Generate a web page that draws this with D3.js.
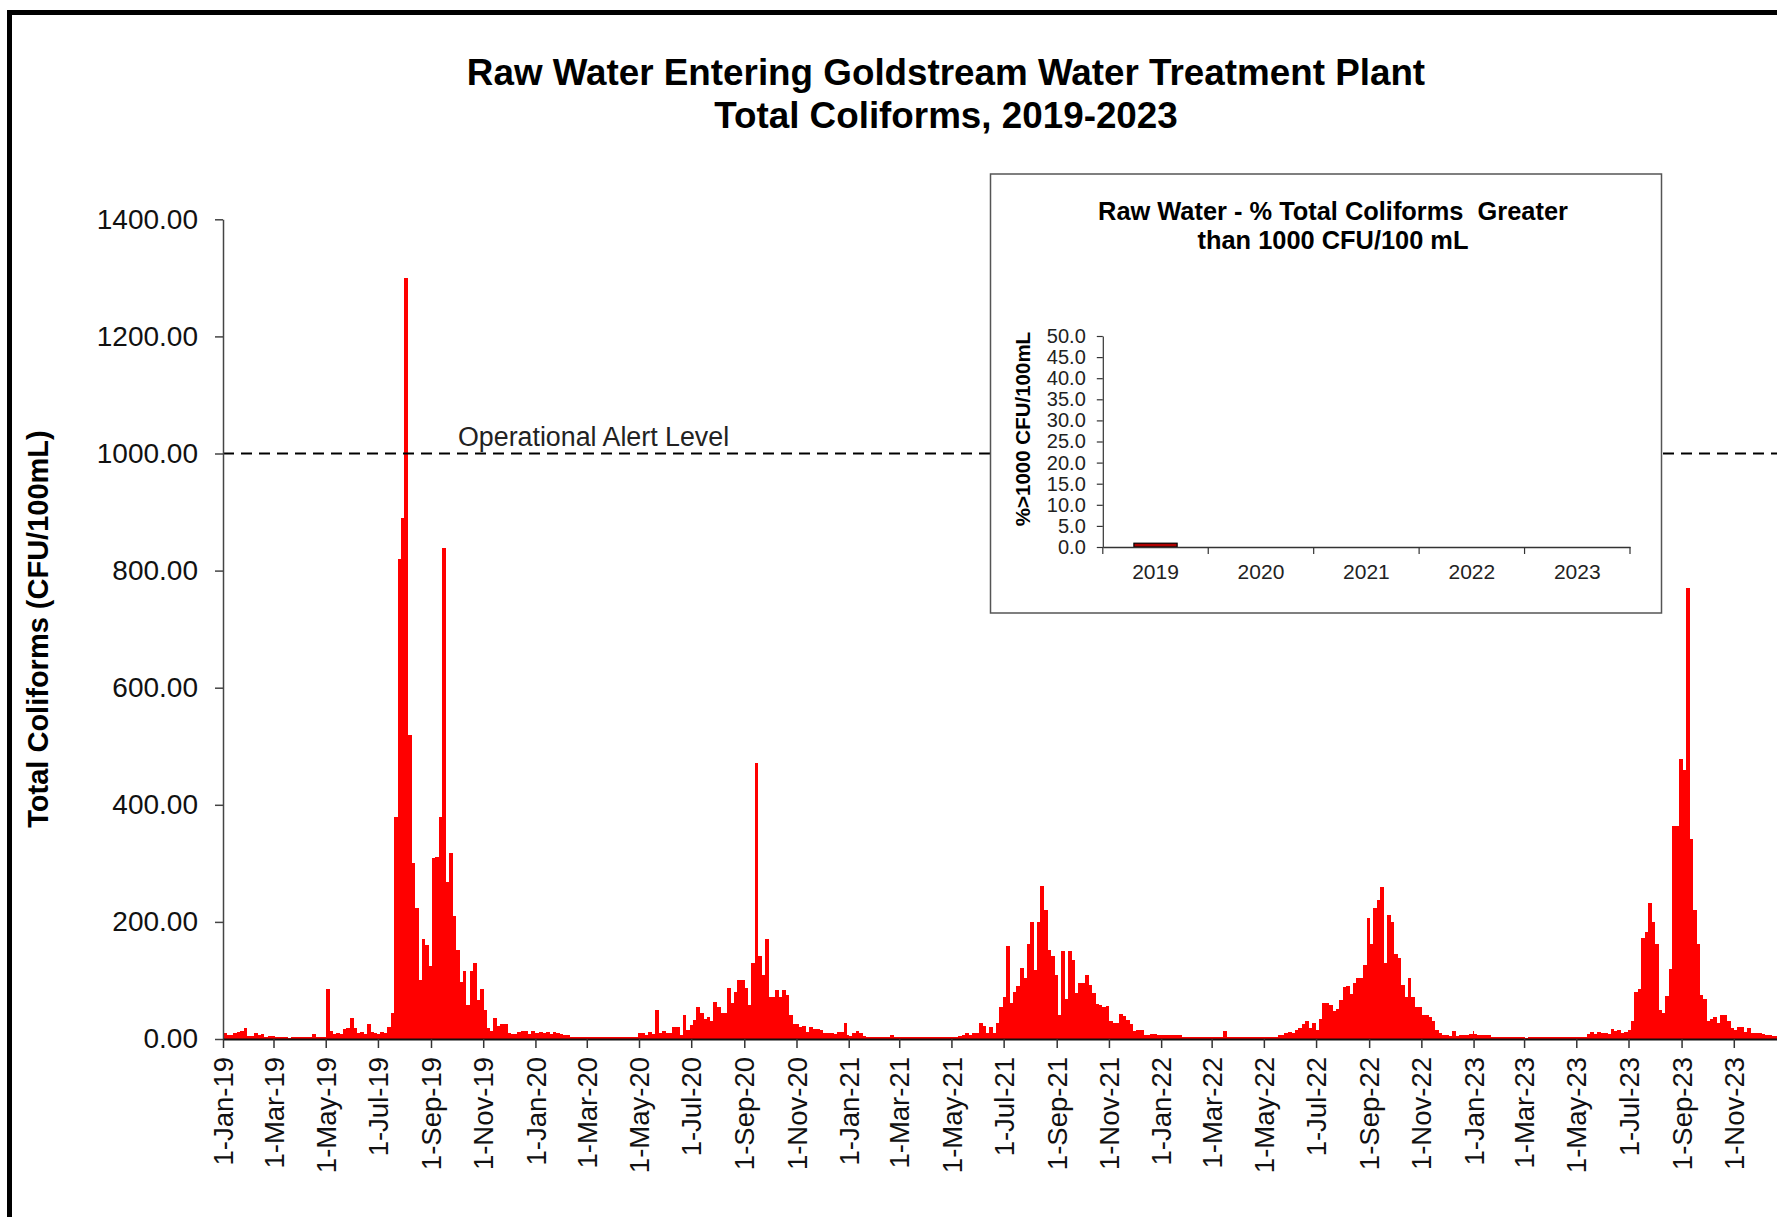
<!DOCTYPE html>
<html>
<head>
<meta charset="utf-8">
<script src="https://cdn.jsdelivr.net/npm/d3@7"></script>
<style>
  body { margin: 0; background: #fff; }
  text { font-family: "Liberation Sans", Arial, sans-serif; }
</style>
</head>
<body>
<div class="chart"></div>
<script>
const width = 1777, height = 1217;

// total coliforms, one reading per 4 days, each list starts on 1 January
const tc2019 = [10, 6, 6, 10, 12, 14, 19, 5, 5, 10, 7, 8, 4, 5, 5, 4, 4, 4, 4, 2, 4, 4, 4, 4, 4, 4, 8, 3, 3, 3,
  86, 14, 8, 10, 8, 17, 19, 36, 18, 10, 12, 8, 25, 12, 10, 8, 12, 10, 20, 45,
  380, 820, 890, 1300, 520, 300, 224, 100, 170, 160, 125, 309, 310, 380, 839, 269, 318, 210, 152, 98,
  116, 58, 116, 130, 67, 85, 49, 18, 13, 36, 22, 25, 25, 10, 8, 9, 12, 14, 13, 8, 14, 10];
const tc2020 = [10, 12, 10, 12, 8, 12, 10, 8, 7, 6,
  4, 4, 3, 4, 4, 4, 3, 4, 4, 4, 4, 3, 4, 4, 4, 4,
  4, 3, 4, 4, 11, 11, 7, 12, 8, 50,
  10, 14, 10, 10, 20, 21, 7, 41, 15, 24, 32, 55,
  45, 35, 38, 30, 64, 55, 44, 44, 87, 61, 81, 100,
  100, 87, 58, 129, 471, 141, 110, 170, 71, 71, 83, 71,
  83, 75, 41, 26, 26, 20, 22, 12, 20, 17, 17, 15,
  10, 10, 10, 8, 12, 12, 27, 7];
const tc2021 = [5, 10, 14, 10, 5, 4, 4, 4, 4, 4, 4, 4, 7,
  4, 4, 3, 4, 4, 4, 4, 3, 4, 4, 4, 4, 4, 3, 4, 4, 4, 4, 4, 5,
  6, 10, 6, 11, 11, 28, 22, 11, 20, 11, 28, 55, 72,
  159, 61, 81, 91, 121, 104, 162, 200, 118, 200, 261, 220, 152,
  141, 109, 41, 151, 69, 151, 135, 78, 95, 95, 109, 92, 78,
  60, 58, 55, 56, 31, 27, 27, 43, 40, 32, 25, 14,
  15, 15, 7, 7, 8, 8, 6, 6];
const tc2022 = [6, 6, 7, 7, 7, 7,
  4, 4, 4, 4, 4, 4, 4, 4, 4, 4, 4, 4, 14,
  4, 4, 3, 4, 4, 4, 4, 4, 3, 4, 4, 4, 4, 4, 4, 7,
  6, 10, 12, 11, 15, 18, 25, 30, 18, 28, 15, 34,
  61, 61, 58, 47, 52, 67, 88, 91, 77, 95, 104, 104,
  126, 206, 163, 223, 237, 260, 130, 212, 199, 146, 139, 92,
  72, 105, 72, 54, 54, 41, 41, 38, 30, 15, 10,
  6, 6, 5, 13, 5, 6, 6, 6, 8, 14];
const tc2023 = [8, 6, 6, 6, 6,
  4, 4, 4, 4, 3, 4, 4, 4, 4, 4,
  2, 4, 3, 4, 3, 4, 3, 4, 3,
  4, 4, 4, 4, 4, 4, 4, 4, 4,
  8, 12, 8, 12, 10, 10, 9, 17, 14, 15, 11, 12,
  15, 30, 81, 85, 172, 182, 232, 200, 162, 50, 44, 73, 120,
  363, 363, 479, 459, 770, 341, 220, 162, 75, 69, 30, 35,
  37, 28, 41, 41, 30, 18, 15, 20, 21, 12, 18, 11,
  10, 10, 8, 7, 6, 5, 5, 5, 4, 4];

const years = [2019, 2020, 2021, 2022, 2023];
const seriesByYear = [tc2019, tc2020, tc2021, tc2022, tc2023];
const stepDays = 4;
const alertLevel = 1000;
const yTicks = [0, 200, 400, 600, 800, 1000, 1200, 1400];

// inset: % of samples above 1000 CFU/100 mL
const insetYears = ["2019", "2020", "2021", "2022", "2023"];
const insetPct = [0.9, 0, 0, 0, 0];
const insetTicks = [0, 5, 10, 15, 20, 25, 30, 35, 40, 45, 50];

const svg = d3.select(".chart").append("svg")
  .attr("width", width)
  .attr("height", height);

// outer frame (runs off the right and bottom edge)
svg.append("rect")
  .attr("x", 9.5).attr("y", 12.5)
  .attr("width", 2000).attr("height", 2000)
  .attr("fill", "none").attr("stroke", "#000").attr("stroke-width", 5);

svg.append("text")
  .attr("x", 946).attr("y", 85)
  .attr("text-anchor", "middle").attr("font-size", 36.8).attr("font-weight", "bold")
  .text("Raw Water Entering Goldstream Water Treatment Plant");
svg.append("text")
  .attr("x", 946).attr("y", 128)
  .attr("text-anchor", "middle").attr("font-size", 36.8).attr("font-weight", "bold")
  .text("Total Coliforms, 2019-2023");

const x = d3.scaleTime()
  .domain([new Date(2019, 0, 1), new Date(2024, 0, 1)])
  .range([223, 1786]);
const y = d3.scaleLinear()
  .domain([0, 1400])
  .range([1039, 219.3]);

const bars = [];
years.forEach((yr, k) => {
  const start = new Date(yr, 0, 1), end = new Date(yr + 1, 0, 1);
  seriesByYear[k].forEach((v, i) => {
    const d0 = d3.timeDay.offset(start, stepDays * i);
    let d1 = d3.timeDay.offset(start, stepDays * (i + 1));
    if (d1 > end) d1 = end;
    bars.push({ d0: d0, d1: d1, v: v });
  });
});

svg.append("g")
  .attr("shape-rendering", "crispEdges")
  .selectAll("rect")
  .data(bars)
  .enter().append("rect")
  .attr("x", d => x(d.d0))
  .attr("width", d => x(d.d1) - x(d.d0) + 0.4)
  .attr("y", d => y(d.v))
  .attr("height", d => y(0) - y(d.v))
  .attr("fill", "#ff0000");

// operational alert level
svg.append("line")
  .attr("x1", x.range()[0]).attr("x2", width)
  .attr("y1", y(alertLevel)).attr("y2", y(alertLevel))
  .attr("stroke", "#000").attr("stroke-width", 2)
  .attr("stroke-dasharray", "11,7");
svg.append("text")
  .attr("x", 458).attr("y", y(alertLevel) - 8)
  .attr("font-family", "'Open Sans', sans-serif")
  .attr("font-size", 26.8).attr("fill", "#222")
  .text("Operational Alert Level");

// axes
const yAxis = svg.append("g")
  .attr("transform", `translate(${x.range()[0]},0)`)
  .call(d3.axisLeft(y).tickValues(yTicks).tickFormat(d3.format(".2f"))
    .tickSize(8).tickSizeOuter(0).tickPadding(17));
yAxis.selectAll("text").attr("font-size", 28).attr("fill", "#111")
  .attr("font-family", "'Liberation Sans', Arial, sans-serif");
yAxis.select(".domain").attr("stroke", "#444").attr("stroke-width", 1.5);
yAxis.selectAll(".tick line").attr("stroke", "#444").attr("stroke-width", 1.5);

const monthTicks = d3.timeMonth.every(2).range(new Date(2019, 0, 1), new Date(2024, 0, 1));
const xAxis = svg.append("g")
  .attr("transform", `translate(0,${y(0)})`)
  .call(d3.axisBottom(x).tickValues(monthTicks).tickFormat(d3.timeFormat("%-d-%b-%y"))
    .tickSize(9).tickSizeOuter(0));
xAxis.selectAll("text")
  .attr("transform", "rotate(-90)")
  .attr("text-anchor", "end")
  .attr("x", -18).attr("y", 0).attr("dy", "0.35em")
  .attr("font-size", 27.5).attr("fill", "#111")
  .attr("font-family", "'Liberation Sans', Arial, sans-serif");
xAxis.select(".domain").attr("stroke", "#111").attr("stroke-width", 2);
xAxis.selectAll(".tick line").attr("stroke", "#333").attr("stroke-width", 1.5);

svg.append("text")
  .attr("transform", `translate(48,629) rotate(-90)`)
  .attr("text-anchor", "middle").attr("font-size", 29).attr("font-weight", "bold")
  .text("Total Coliforms (CFU/100mL)");

// inset chart
const inset = svg.append("g");
inset.append("rect")
  .attr("x", 990.5).attr("y", 174)
  .attr("width", 671).attr("height", 439)
  .attr("fill", "#fff").attr("stroke", "#555").attr("stroke-width", 1.5);

inset.append("text")
  .attr("x", 1333).attr("y", 220)
  .attr("text-anchor", "middle").attr("font-size", 25.4).attr("font-weight", "bold")
  .style("white-space", "pre")
  .text("Raw Water - % Total Coliforms  Greater");
inset.append("text")
  .attr("x", 1333).attr("y", 249)
  .attr("text-anchor", "middle").attr("font-size", 25.4).attr("font-weight", "bold")
  .style("white-space", "pre")
  .text("than 1000 CFU/100 mL");

const xI = d3.scaleBand().domain(insetYears).range([1102.8, 1630]);
const yI = d3.scaleLinear().domain([0, 50]).range([547, 336]);
const barW = xI.bandwidth() * 0.41;

inset.selectAll(".pct")
  .data(insetPct.map((v, i) => ({ year: insetYears[i], v: v })).filter(d => d.v > 0))
  .enter().append("rect")
  .attr("class", "pct")
  .attr("x", d => xI(d.year) + (xI.bandwidth() - barW) / 2)
  .attr("width", barW)
  .attr("y", d => yI(d.v))
  .attr("height", d => yI(0) - yI(d.v))
  .attr("fill", "#b00000").attr("stroke", "#000").attr("stroke-width", 1.2);

const yIAxis = inset.append("g")
  .attr("transform", `translate(${xI.range()[0]},0)`)
  .call(d3.axisLeft(yI).tickValues(insetTicks).tickFormat(d3.format(".1f"))
    .tickSize(6).tickSizeOuter(0).tickPadding(11));
yIAxis.selectAll("text").attr("font-size", 20).attr("fill", "#222")
  .attr("font-family", "'Liberation Sans', Arial, sans-serif");
yIAxis.selectAll("line, path").attr("stroke", "#333").attr("stroke-width", 1.2);

const xIAxis = inset.append("g")
  .attr("transform", `translate(0,${yI(0)})`)
  .call(d3.axisBottom(xI).tickSize(0).tickSizeOuter(0).tickPadding(17));
xIAxis.selectAll("text").attr("font-size", 21).attr("fill", "#222")
  .attr("font-family", "'Liberation Sans', Arial, sans-serif");
xIAxis.select(".domain").attr("stroke", "#333").attr("stroke-width", 1.5);

const bounds = insetYears.map(d => xI(d)).concat([xI.range()[1]]);
xIAxis.selectAll(".bound")
  .data(bounds)
  .enter().append("line")
  .attr("class", "bound")
  .attr("x1", d => d).attr("x2", d => d)
  .attr("y1", 0).attr("y2", 7)
  .attr("stroke", "#333").attr("stroke-width", 1.2);

inset.append("text")
  .attr("transform", `translate(1030,429) rotate(-90)`)
  .attr("text-anchor", "middle").attr("font-size", 20.5).attr("font-weight", "bold")
  .text("%>1000 CFU/100mL");
</script>
</body>
</html>
